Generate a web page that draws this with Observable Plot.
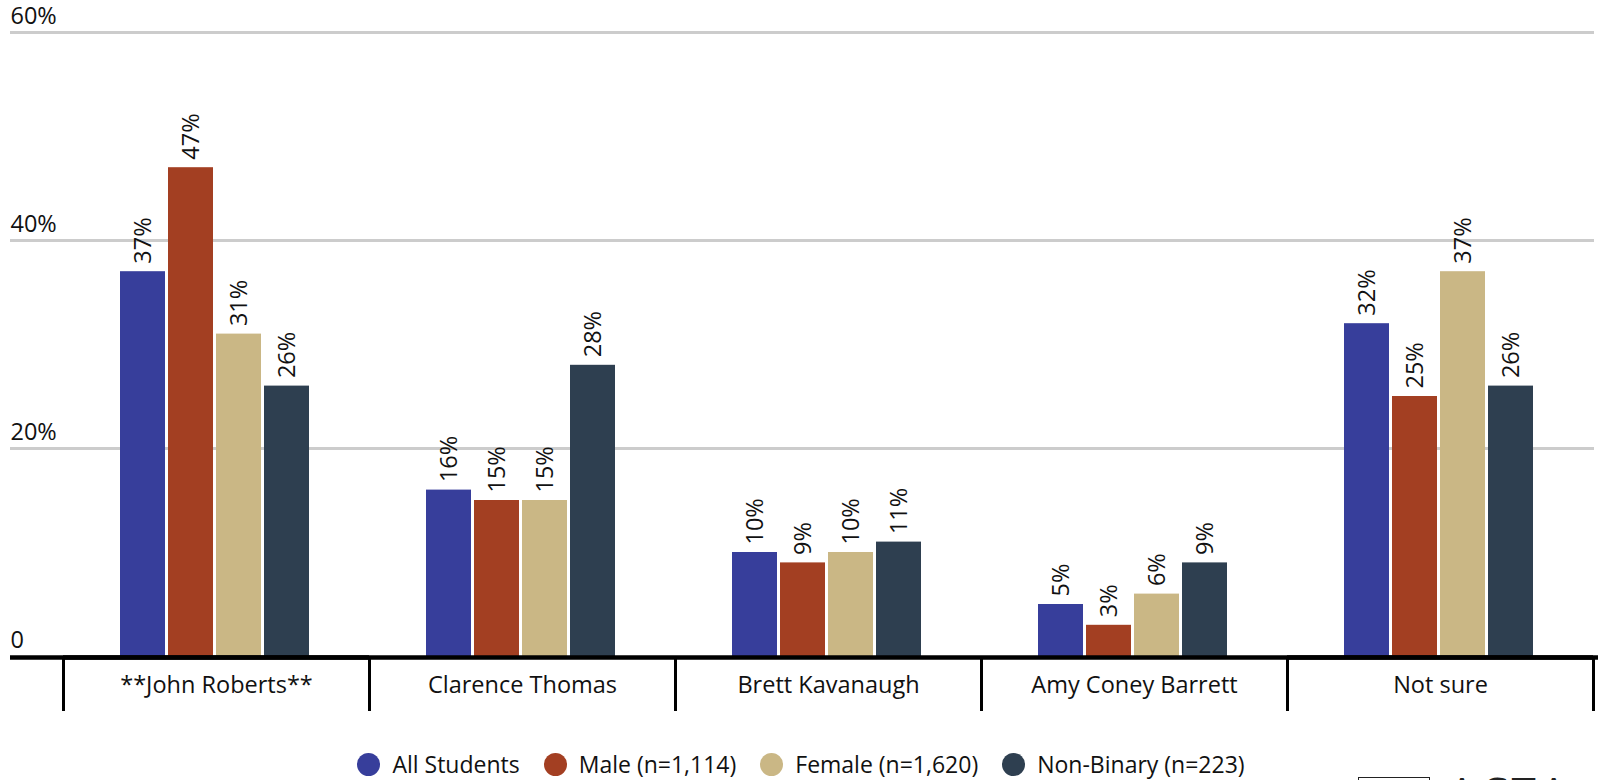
<!DOCTYPE html>
<html>
<head>
<meta charset="utf-8">
<script src="https://cdn.jsdelivr.net/npm/d3@7"></script>
<script src="https://cdn.jsdelivr.net/npm/@observablehq/plot@0.6"></script>
<style>
  html, body { margin: 0; padding: 0; background: #fff; }
  body { position: relative; width: 1602px; height: 780px; overflow: hidden; font-family: "Open Sans", sans-serif; color: #111; }
  #chart svg { display: block; }
  .legend { display: flex; justify-content: center; align-items: center; gap: 24px; margin-top: 29px; height: 30px; font-size: 23px; line-height: 30px; color: #111; }
  .legend .item { display: flex; align-items: center; gap: 12px; }
  .legend .dot { width: 23px; height: 23px; border-radius: 50%; display: inline-block; }
  .logo-box { position: absolute; left: 1358px; top: 777px; width: 70px; height: 40px; border: 1.5px solid #222; }
  .logo-text { position: absolute; left: 1448px; top: 762px; font-size: 44px; letter-spacing: 4px; color: #222; line-height: normal; }
</style>
</head>
<body>
<div id="chart"></div>
<div class="legend" id="legend"></div>
<div class="logo-box"></div>
<div class="logo-text">ACTA</div>
<script>
const categories = ["**John Roberts**", "Clarence Thomas", "Brett Kavanaugh", "Amy Coney Barrett", "Not sure"];
const seriesNames = ["All Students", "Male (n=1,114)", "Female (n=1,620)", "Non-Binary (n=223)"];
const allStudents = [37, 16, 10, 5, 32];
const male = [47, 15, 9, 3, 25];
const female = [31, 15, 10, 6, 37];
const nonBinary = [26, 28, 11, 9, 26];
const seriesColors = ["#373e9b", "#a33f22", "#cab785", "#2e3f50"];
const yTicks = [0, 20, 40, 60];

const seriesValues = [allStudents, male, female, nonBinary];
const data = [];
categories.forEach((c, i) => {
  seriesNames.forEach((s, j) => {
    data.push({category: c, series: s, value: seriesValues[j][i]});
  });
});
const first = categories[0];
const last = categories[categories.length - 1];
const gridTicks = yTicks.filter(d => d > 0);

const chart = Plot.plot({
  width: 1602,
  height: 720,
  marginTop: 32,
  marginBottom: 64,
  marginLeft: 62,
  marginRight: 9,
  style: {fontFamily: "Open Sans", fontSize: "23.5px", color: "#111", background: "white", overflow: "visible"},
  fx: {domain: categories, padding: 0, axis: null},
  x: {domain: seriesNames, paddingInner: 0.0625, paddingOuter: 1.21875, align: 0.487, axis: null},
  y: {domain: [0, 60], axis: null},
  color: {domain: seriesNames, range: seriesColors},
  marks: [
    Plot.ruleY(gridTicks, {y: d => d, stroke: "#cccccc", strokeWidth: 3}),
    Plot.ruleY(gridTicks, {fx: () => first, y: d => d, stroke: "#cccccc", strokeWidth: 3, insetLeft: -53}),
    Plot.ruleY(gridTicks, {fx: () => last, y: d => d, stroke: "#cccccc", strokeWidth: 3, insetRight: -1}),
    Plot.text(yTicks, {fx: () => first, y: d => d, text: d => d === 0 ? "0" : d + "%", frameAnchor: "left", textAnchor: "start", lineAnchor: "bottom", dx: -53, dy: -9, fill: "#111"}),
    Plot.barY(data, {fx: "category", x: "series", y: "value", fill: "series"}),
    Plot.text(data, {fx: "category", x: "series", y: "value", text: d => d.value + "%", rotate: -90, textAnchor: "start", dy: -8, fill: "#111"}),
    Plot.ruleY([0], {stroke: "black", strokeWidth: 4.5, dy: 1}),
    Plot.ruleY([0], {fx: () => first, stroke: "black", strokeWidth: 4.5, insetLeft: -53, dy: 1}),
    Plot.ruleY([0], {fx: () => last, stroke: "black", strokeWidth: 4.5, insetRight: -5, dy: 1}),
    Plot.frame({anchor: "left", stroke: "black", strokeWidth: 3, insetTop: 627, insetBottom: -53}),
    Plot.frame({anchor: "right", stroke: "black", strokeWidth: 3, insetTop: 627, insetBottom: -53}),
    Plot.text(categories, {fx: d => d, text: d => d, frameAnchor: "bottom", lineAnchor: "bottom", dy: 36, fill: "#111"})
  ]
});
document.getElementById("chart").appendChild(chart);

const legend = document.getElementById("legend");
seriesNames.forEach((s, j) => {
  const item = document.createElement("div");
  item.className = "item";
  const dot = document.createElement("span");
  dot.className = "dot";
  dot.style.background = seriesColors[j];
  const label = document.createElement("span");
  label.textContent = s;
  item.appendChild(dot);
  item.appendChild(label);
  legend.appendChild(item);
});
</script>
</body>
</html>
